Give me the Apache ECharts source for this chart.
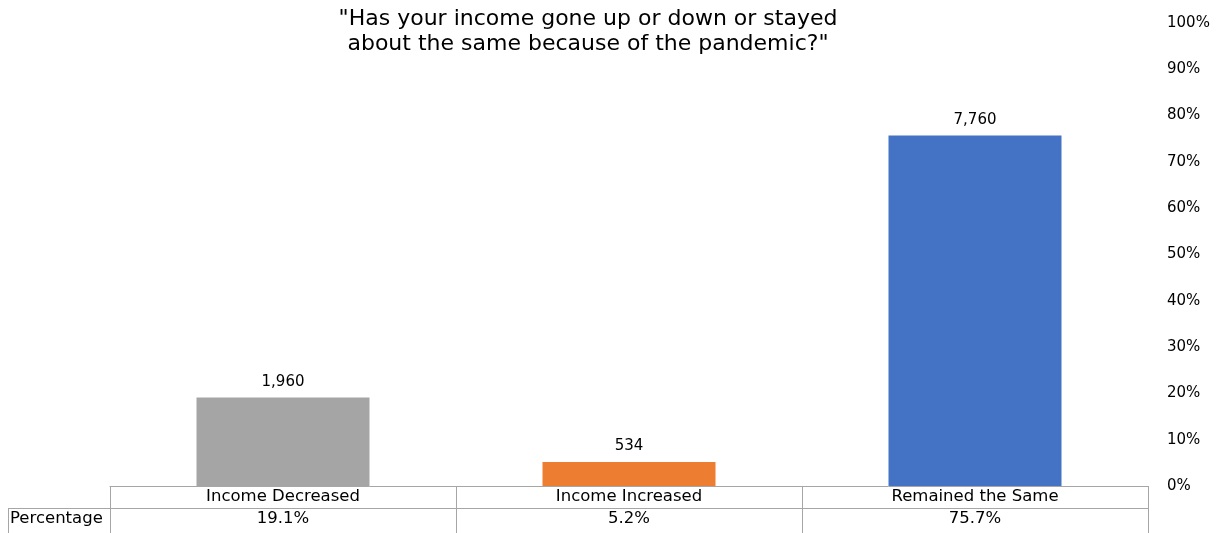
<!DOCTYPE html>
<html>
<head>
<meta charset="utf-8">
<script src="https://cdn.jsdelivr.net/npm/echarts@6/dist/echarts.min.js"></script>
<style>
  html, body { margin: 0; padding: 0; background: #fff; }
  #chart { width: 1219px; height: 533px; }
</style>
</head>
<body>
<div id="chart"></div>
<script>
// Survey answers, respondent counts and their share of the total
const categories = ['Income Decreased', 'Income Increased', 'Remained the Same'];
const counts = [1960, 534, 7760];
const percentages = [19.1, 5.2, 75.7];
const barColors = ['#A5A5A5', '#ED7D31', '#4472C4'];
const rowHeader = 'Percentage';

const FONT = '"DejaVu Sans", "Liberation Sans", Arial, sans-serif';
const LINE = '#A6A6A6';

const chart = echarts.init(document.getElementById('chart'), null, { renderer: 'canvas' });

const option = {
  animation: false,
  backgroundColor: '#fff',
  textStyle: { fontFamily: FONT },
  title: {
    text: '"Has your income gone up or down or stayed\nabout the same because of the pandemic?"',
    left: 588,
    top: 7,
    padding: 0,
    textAlign: 'center',
    textStyle: { fontFamily: FONT, fontSize: 22, fontWeight: 'normal', color: '#000', lineHeight: 25 }
  },
  grid: { left: 110, right: 71, top: 23, bottom: 47, containLabel: false },
  xAxis: {
    type: 'category',
    data: categories,
    boundaryGap: true,
    axisLine: { show: true, lineStyle: { color: LINE, width: 1 } },
    axisTick: { show: true, inside: false, length: 47, lineStyle: { color: LINE, width: 1 } },
    axisLabel: {
      margin: 0,
      interval: 0,
      formatter: (v, i) => '{a|' + v + '}\n{b|' + percentages[i].toFixed(1) + '%}',
      rich: {
        a: { fontFamily: FONT, fontSize: 16.5, color: '#000', lineHeight: 22, height: 22 },
        b: { fontFamily: FONT, fontSize: 16.5, color: '#000', lineHeight: 22, height: 22 }
      }
    },
    splitLine: { show: false }
  },
  yAxis: {
    type: 'value',
    position: 'right',
    min: 0,
    max: 100,
    interval: 10,
    axisLine: { show: false },
    axisTick: { show: false },
    splitLine: { show: false },
    axisLabel: {
      margin: 19,
      formatter: '{value}%',
      fontFamily: FONT,
      fontSize: 15,
      color: '#000'
    }
  },
  series: [{
    type: 'bar',
    barWidth: '50%',
    data: percentages.map((p, i) => ({ value: p, itemStyle: { color: barColors[i] } })),
    label: {
      show: true,
      position: 'top',
      distance: 8,
      fontFamily: FONT,
      fontSize: 15,
      color: '#000',
      formatter: (p) => counts[p.dataIndex].toLocaleString('en-US')
    }
  }]
};

chart.setOption(option);

// Data table grid lines beneath the category axis
const gridRect = chart.getModel().getComponent('grid', 0).coordinateSystem.getRect();
const baseY = gridRect.y + gridRect.height;
const rowY = baseY + 22;
const rightX = gridRect.x + gridRect.width;
const tableLeft = 8;

chart.setOption({
  graphic: [
    {
      type: 'line',
      shape: { x1: tableLeft, y1: rowY + 0.5, x2: rightX, y2: rowY + 0.5 },
      style: { stroke: LINE, lineWidth: 1 }
    },
    {
      type: 'line',
      shape: { x1: tableLeft + 0.5, y1: rowY, x2: tableLeft + 0.5, y2: 533 },
      style: { stroke: LINE, lineWidth: 1 }
    },
    {
      type: 'text',
      x: tableLeft + 2,
      y: rowY + 11,
      style: { text: rowHeader, font: '16.5px ' + FONT, fill: '#000', textVerticalAlign: 'middle', textAlign: 'left' }
    }
  ]
});
</script>
</body>
</html>
